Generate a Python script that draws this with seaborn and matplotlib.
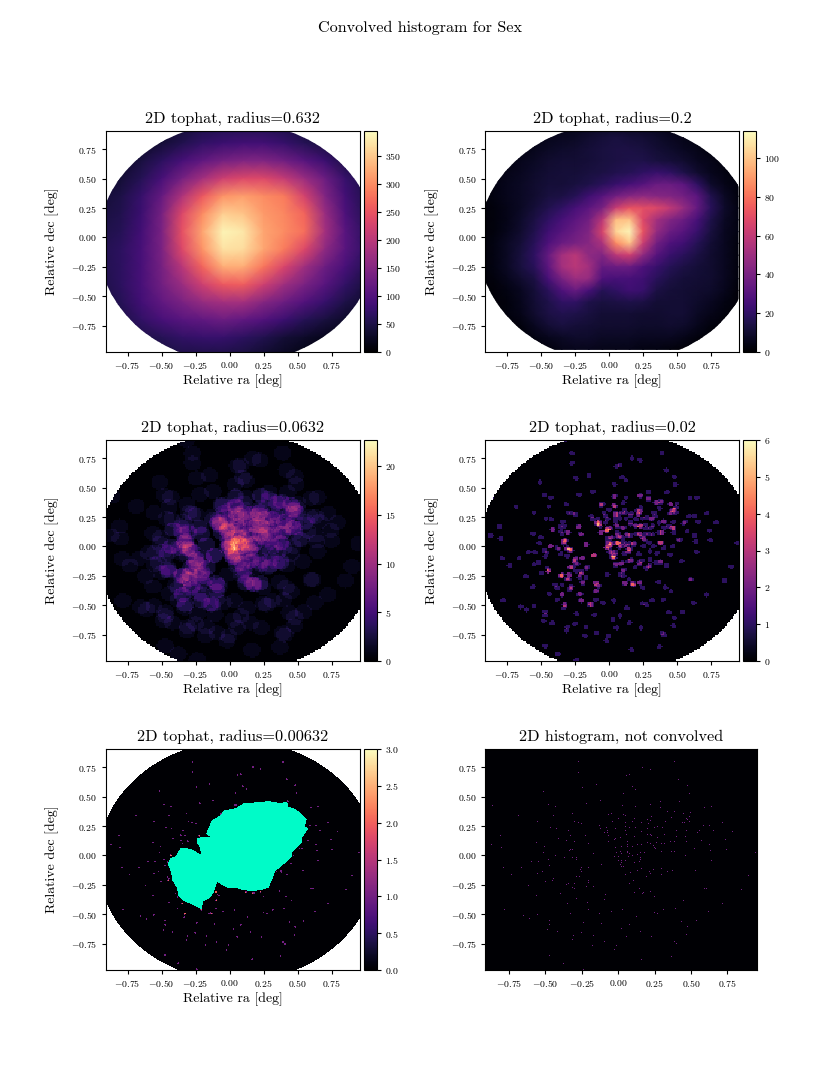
import numpy as np
import pandas as pd
import matplotlib
matplotlib.use('Agg')
import matplotlib.pyplot as plt
from matplotlib.patches import Ellipse
from matplotlib.path import Path
import seaborn as sns

# source positions [deg]
star_ra = [-.322,-.274,-.274,-.244,-.514,-.148,.055,.082,.171,.226,.390,.418,.479,.489,.096,.123,.041,-.123,-.219,-.479,
    -.863,-.431,.034,.123,.226,.288,.288,.425,.596,.644,-.685,-.445,-.315,-.048,-.062,.041,.048,.342,.384,.452,
    .500,.493,.370,.473,.479,.493,.445,.459,-.555,-.301,-.274,-.247,0,-.041,.116,.096,.205,.226,.233,.212,
    .164,.048,.329,.719,.589,.630,-.466,-.425,-.342,-.130,-.123,-.082,-.075,-.075,-.096,-.014,.048,.082,.123,.048,
    .158,.199,.247,.274,.308,.404,.473,.562,.658,.548,.788,-.808,-.411,-.356,-.329,-.226,-.068,-.062,-.021,-.014,
    .014,.055,.062,.110,.199,.226,.233,.274,.322,.404,.466,.473,.575,.740,-.870,-.801,-.562,-.507,-.301,-.205,
    -.329,-.315,-.336,-.014,.021,.062,.068,.096,.137,.158,.199,.226,.240,.267,.295,.322,.363,.390,.527,.630,
    .637,.747,-.514,-.171,-.007,-.021,0,.014,.021,.062,.062,.082,.096,.137,.151,.185,.253,.260,.295,.370,
    .384,.466,.945,-.431,-.370,-.288,-.288,-.315,-.479,-.596,-.548,0,.021,.048,.021,.075,.110,.151,.151,.144,
    .644,-.116,-.473,.014,.027,.041,-.788,-.664,-.247,-.199,-.260,-.253,.164,.219,.240,.301,.342,.377,.534,-.733,
    -.555,-.521,-.267,-.288,.048,.089,.137,.192,.226,.301,.897,-.445,-.452,-.500,-.205,-.205,.103,.082,-.342,-.295,
    -.616,-.356,-.315,-.295,-.219,-.171,.144,.596,.610,.849,-.397,-.562,.116,.171,.178,.226,-.089,.247,-.096,-.212,
    -.349,.452,.719,-.288,-.781,-.329,-.205,-.130,-.048,.034,.315,.397,.247,.274,.623,-.555,-.651,-.610,.130,-.473,
    .438,.541,-.240,-.110,-.473,.082,.479,-.486,-.418,.027,-.253,.151,-.308,-.171,.055,.233,-.315,.473,-.096,.390,
    .404,-.178,-.007,-.021,-.473,.370,.164,-.377,-.240]
star_dec = [.905,.794,.708,.580,.546,.606,.683,.691,.751,.734,.794,.649,.597,.529,.589,.563,.529,.469,.444,.435,
    .427,.418,.427,.418,.435,.461,.410,.461,.410,.418,.341,.341,.358,.358,.350,.350,.341,.376,.376,.358,
    .367,.333,.324,.316,.307,.290,.282,.282,.290,.290,.282,.273,.316,.290,.316,.290,.307,.299,.333,.273,
    .282,.282,.290,.282,.256,.256,.239,.230,.213,.256,.230,.239,.213,.196,.196,.230,.248,.239,.239,.213,
    .205,.230,.239,.248,.239,.213,.213,.213,.213,.196,.205,.171,.145,.128,.171,.171,.171,.119,.137,.145,
    .154,.179,.119,.162,.179,.179,.171,.154,.179,.162,.162,.119,.128,.137,.094,.068,.111,.077,.119,.102,
    .051,.051,.043,.068,.077,.094,.077,.077,.094,.094,.111,.102,.085,.111,.102,.102,.119,.119,.060,.094,
    .043,.051,.026,.017,.026,-.009,-.009,.034,.017,.034,.026,.017,0,.009,.026,.026,.068,.060,.034,.034,
    .034,0,.026,0,-.017,-.017,-.034,-.017,-.034,-.051,-.051,-.043,-.043,-.043,-.060,-.009,-.060,-.017,-.034,-.051,
    -.043,-.077,-.085,-.077,-.094,-.094,-.102,-.102,-.102,-.102,-.119,-.137,-.111,-.137,-.119,-.111,-.137,-.128,-.128,-.162,
    -.154,-.137,-.179,-.179,-.162,-.145,-.128,-.179,-.154,-.162,-.171,-.196,-.213,-.222,-.213,-.230,-.213,-.239,-.239,-.239,
    -.256,-.248,-.273,-.282,-.265,-.265,-.282,-.282,-.282,-.290,-.324,-.341,-.316,-.324,-.316,-.307,-.333,-.350,-.376,-.401,
    -.410,-.384,-.410,-.367,-.461,-.495,-.461,-.495,-.478,-.461,-.461,-.452,-.486,-.495,-.478,-.504,-.512,-.538,-.521,-.555,
    -.563,-.555,-.572,-.580,-.589,-.589,-.606,-.632,-.649,-.623,-.657,-.649,-.683,-.683,-.691,-.691,-.717,-.674,-.734,-.734,
    -.751,-.760,-.760,-.802,-.845,-.854,-.879,-.913,-.964]

# more sources, only visible once the tophat has spread them out
extra_ra = [-.015,-.003,.010,-.020,.046,.071,.034,.022,.046,.054,-.015,-.003,-.020,.058,-.088,-.076,.225,.230,.217,.315,
    .308,.144,.156,.168,.181,.254,.389,.474,.462,.450,.462,.376,.352,.107,.120,.156,.071,.132,.107,.083,
    .181,.120,.217,.291,.274,.095,.107,.107,.120,-.015,-.100,-.076,.230,.193,.266,.034,-.064,.046,.230,.291,
    .340,.364,.437,.401,.511,.376,.401,.327,.303,.352,.450,.376,.420,.364,.413,.225,-.113,-.027,-.027,.046,
    .156,.095,.010,-.064,-.326,-.333,-.308,-.291,-.277,-.284,-.247,-.235,-.169,-.162,-.198,-.193,-.277,-.284,-.326,-.333,
    -.149,-.137,-.101,-.101,-.345,-.357,-.345,-.296,-.301,-.242,-.211,-.382,-.418,-.357,-.345,-.308,-.223,-.211,-.169,-.113,
    -.455,-.448,-.431,-.382,-.357,-.308,-.198,-.345,-.382,-.443,-.223,-.211,-.101,-.455]
extra_dec = [.031,.003,.017,-.011,.031,.031,-.082,-.097,-.068,-.145,.145,.159,.131,.173,.202,.188,.108,.301,.273,.239,
    .159,-.026,-.125,-.318,-.324,.003,.117,.159,.159,.358,.315,.386,.372,.372,.287,.259,.273,.102,.045,.088,
    .017,.017,-.063,-.168,-.182,-.139,-.196,-.253,-.310,-.239,-.310,-.338,.173,.173,.188,.344,.358,.429,.429,.401,
    .259,.202,.173,.216,.060,.031,-.011,.003,-.040,-.054,-.068,-.139,-.162,-.301,-.347,-.310,-.077,.202,.259,.273,
    .188,.159,.074,.117,.045,.023,-.011,-.026,-.034,-.176,-.111,-.148,-.182,-.176,-.301,-.318,-.338,-.352,-.494,-.523,
    -.494,-.489,-.310,-.381,-.324,-.253,-.244,-.239,-.281,-.210,-.239,-.352,.145,.173,.102,.125,.165,.108,.017,-.074,
    -.182,-.210,.003,-.011,-.063,-.082,-.097,-.409,-.452,-.401,-.409,-.460,-.452,-.054]

# outline of the saturated region in the r=0.00632 panel
blob_ra = [-.240,-.142,-.174,-.130,-.069,-.044,.042,.103,.213,.286,.360,.421,.428,.482,.563,.551,.575,.531,.526,.458,
    .458,.396,.335,.311,.286,.230,.164,.091,.042,-.020,-.093,-.117,-.142,-.191,-.208,-.264,-.338,-.374,-.387,-.418,
    -.428,-.453,-.436,-.399,-.355,-.277,-.208,-.223,-.242]
blob_dec = [.151,.159,.182,.302,.339,.381,.401,.444,.453,.461,.447,.453,.413,.396,.310,.248,.231,.154,.105,.026,
    -.009,-.074,-.131,-.202,-.273,-.293,-.302,-.293,-.273,-.273,-.225,-.316,-.359,-.387,-.458,-.421,-.387,-.344,-.273,-.216,
    -.145,-.074,-.023,-.009,.068,.054,.006,.083,.111]

# large radius panels, read on a coarse raster
wide_ra = [-.95,-.8,-.65,-.5,-.35,-.2,-.05,.1,.25,.4,.55,.7,.85,1.0]
wide_dec = [.95,.8,.65,.5,.35,.2,.05,-.1,-.25,-.4,-.55,-.7,-.85,-1.0]
wide_counts = [
    [30,30,30,30,40,50,55,55,55,50,40,30,20,20],
    [30,30,30,40,55,70,80,85,85,75,60,45,30,25],
    [30,30,45,65,90,115,135,145,145,130,105,80,50,35],
    [35,40,60,90,135,180,220,235,235,210,170,125,75,50],
    [40,50,75,120,190,255,305,315,300,285,225,145,85,55],
    [45,55,80,135,235,300,355,345,310,295,265,170,95,60],
    [50,60,85,140,245,320,385,375,320,300,275,180,105,65],
    [55,65,90,140,235,305,370,365,320,285,235,160,105,70],
    [55,65,90,135,200,265,325,325,280,230,175,125,90,60],
    [50,65,90,130,170,220,255,260,220,175,140,105,70,45],
    [45,60,85,115,140,165,180,180,150,125,100,75,50,35],
    [40,50,70,90,105,115,125,115,100,80,60,45,30,20],
    [40,40,50,60,70,75,75,65,55,40,30,20,15,15],
    [35,35,40,45,50,50,50,45,35,25,15,10,10,10]]

mid_ra = [-.95,-.85,-.75,-.65,-.55,-.45,-.35,-.25,-.15,-.05,.05,.15,.25,.35,.45,.55,.65,.75,.85,.95]
mid_dec = [.95,.85,.75,.65,.55,.45,.35,.25,.15,.05,-.05,-.15,-.25,-.35,-.45,-.55,-.65,-.75,-.85,-.95]
mid_counts = [
    [2,2,2,2,3,4,5,6,7,8,8,7,7,6,5,4,3,2,2,2],
    [2,2,3,3,4,6,7,8,10,12,13,12,11,9,7,5,4,3,2,2],
    [2,3,3,4,6,8,9,10,12,13,14,14,13,11,9,7,5,3,2,2],
    [2,3,4,6,8,10,11,11,12,13,14,15,15,13,12,10,7,5,3,2],
    [2,3,5,7,9,11,12,12,13,14,16,17,20,22,20,15,10,6,4,2],
    [2,4,6,8,10,12,12,13,15,18,22,26,30,36,36,32,20,9,5,3],
    [2,4,6,8,10,13,14,17,24,30,38,44,46,44,42,38,32,16,8,3],
    [2,3,5,8,12,16,20,26,32,40,62,72,70,68,60,48,34,18,9,4],
    [2,3,5,9,14,20,26,32,38,58,98,100,68,52,42,36,26,15,8,4],
    [2,3,6,10,16,24,30,36,42,66,104,112,72,48,36,30,22,13,7,4],
    [2,4,8,12,18,28,36,40,44,54,86,100,62,38,28,24,17,11,7,3],
    [2,4,8,13,20,34,52,58,46,42,58,64,46,30,22,18,14,10,7,3],
    [2,4,8,13,18,32,52,58,52,34,36,36,28,22,17,14,12,10,7,3],
    [2,3,6,10,14,26,40,50,48,28,26,26,24,18,14,12,11,10,7,3],
    [1,2,4,7,12,18,28,35,26,17,20,24,22,14,12,11,10,9,6,2],
    [1,2,3,6,11,15,20,20,15,13,14,15,14,11,11,11,9,7,4,2],
    [1,2,3,5,10,14,16,15,13,11,11,11,10,10,11,11,8,5,3,1],
    [1,1,2,3,7,11,13,12,11,10,10,10,9,9,10,9,6,3,2,1],
    [1,1,1,2,4,6,8,9,9,8,8,8,7,7,7,5,3,2,1,1],
    [1,1,1,1,2,3,5,6,6,5,5,5,4,4,3,2,1,1,1,1]]

tick_values = [-0.75, -0.5, -0.25, 0, 0.25, 0.5, 0.75]
tick_labels = ['$-0.75$', '$-0.50$', '$-0.25$', '$0.00$', '$0.25$', '$0.50$', '$0.75$']

RA_LIM = (-.912, .953)
DEC_LIM = (-.972, .904)
CENTER = (.055, -.046)
RADIUS = 1.02
W, H = 840, 1090


## helpers
def make_axes(left, top, right, bottom):
    return plt.gcf().add_axes([left / W, 1 - bottom / H, (right - left) / W, (bottom - top) / H])


def bin_index(ra, dec, nx, ny):
    col = (np.asarray(ra) - RA_LIM[0]) / (RA_LIM[1] - RA_LIM[0]) * nx
    row = (DEC_LIM[1] - np.asarray(dec)) / (DEC_LIM[1] - DEC_LIM[0]) * ny
    return col, row


def bin_centres(nx, ny):
    ra_edges = np.linspace(RA_LIM[0], RA_LIM[1], nx + 1)
    dec_edges = np.linspace(DEC_LIM[1], DEC_LIM[0], ny + 1)
    return np.meshgrid((ra_edges[:-1] + ra_edges[1:]) / 2, (dec_edges[:-1] + dec_edges[1:]) / 2)


def tophat_counts(ras, decs, radius, nx, ny):
    # count the stars within radius of every bin centre
    xx, yy = bin_centres(nx, ny)
    grid = np.zeros((ny, nx))
    for ra, dec in zip(ras, decs):
        hit = (xx - ra) ** 2 + (yy - dec) ** 2 <= radius ** 2
        col, row = bin_index(ra, dec, nx, ny)
        if 0 <= int(col) < nx and 0 <= int(row) < ny:
            hit[int(row), int(col)] = True
        grid += hit
    return grid, (xx - CENTER[0]) ** 2 + (yy - CENTER[1]) ** 2 > RADIUS ** 2


def finish_axes(ax, title, to_col, to_row, labels=True):
    for spine in ax.spines.values():
        spine.set_visible(True)
        spine.set_linewidth(0.8)
    ax.set_xticks(to_col(tick_values))
    ax.set_yticks(to_row(tick_values))
    ax.set_xticklabels(tick_labels, rotation=0)
    ax.set_yticklabels(tick_labels, rotation=0)
    ax.tick_params(labelsize=7, length=3, width=0.8, pad=3)
    ax.set_title(title, fontsize=11.7, pad=5.5)
    if labels:
        ax.set_xlabel('Relative ra [deg]', fontsize=10, labelpad=2)
        ax.set_ylabel('Relative dec [deg]', fontsize=10)
        ax.yaxis.set_label_coords(-0.183, 0.5)


def style_colorbar(ax):
    cb = ax.collections[0].colorbar
    cb.outline.set_linewidth(0.8)
    cb.ax.tick_params(labelsize=7, length=3, width=0.8, pad=3)


def smooth_panel(box, cbar_box, title, ra_nodes, dec_nodes, counts, vmax, ticks):
    ax = make_axes(*box)
    cax = make_axes(*cbar_box)
    df = pd.DataFrame(counts, index=dec_nodes, columns=ra_nodes)
    sns.heatmap(df, ax=ax, cbar_ax=cax, cmap='magma', vmin=0, vmax=vmax, shading='gouraud',
                xticklabels=False, yticklabels=False, cbar_kws={'ticks': ticks})
    dx = ra_nodes[1] - ra_nodes[0]
    dy = dec_nodes[0] - dec_nodes[1]
    to_col = lambda v: (np.asarray(v) - ra_nodes[0]) / dx
    to_row = lambda v: (dec_nodes[0] - np.asarray(v)) / dy
    ax.set_xlim(to_col(RA_LIM[0]), to_col(RA_LIM[1]))
    ax.set_ylim(to_row(DEC_LIM[0]), to_row(DEC_LIM[1]))
    # the field of view is a disc
    disc = Ellipse((to_col(CENTER[0]), to_row(CENTER[1])), 2 * RADIUS / dx, 2 * RADIUS / dy,
                   transform=ax.transData)
    ax.collections[0].set_clip_path(disc)
    finish_axes(ax, title, to_col, to_row)
    style_colorbar(ax)


def binned_panel(box, cbar_box, title, radius, vmax, ticks, blob=False, nx=170, ny=147):
    ax = make_axes(*box)
    cax = make_axes(*cbar_box)
    grid, outside = tophat_counts(star_ra + extra_ra, star_dec + extra_dec, radius, nx, ny)
    cmap = 'magma'
    if blob:
        cmap = plt.get_cmap('magma').with_extremes(over='#00fbc8')
        xx, yy = bin_centres(nx, ny)
        inside = Path(np.column_stack([blob_ra, blob_dec])).contains_points(np.column_stack([xx.ravel(), yy.ravel()]))
        grid[inside.reshape(grid.shape)] = vmax + 1
    sns.heatmap(grid, ax=ax, cbar_ax=cax, cmap=cmap, vmin=0, vmax=vmax, mask=outside,
                xticklabels=False, yticklabels=False, cbar_kws={'ticks': ticks})
    finish_axes(ax, title, lambda v: bin_index(v, 0, nx, ny)[0], lambda v: bin_index(0, v, nx, ny)[1])
    style_colorbar(ax)


sns.set_theme(style='ticks')
plt.rcParams['font.family'] = ['cmr10', 'DejaVu Serif']
plt.rcParams['mathtext.fontset'] = 'cm'
plt.rcParams['axes.formatter.use_mathtext'] = True
plt.rcParams['axes.unicode_minus'] = True
plt.rcParams['text.color'] = 'black'
plt.rcParams['axes.labelcolor'] = 'black'
plt.rcParams['xtick.color'] = 'black'
plt.rcParams['ytick.color'] = 'black'
plt.rcParams['axes.edgecolor'] = 'black'

fig = plt.figure(figsize=(8.4, 10.9), dpi=100)
fig.suptitle('Convolved histogram for Sex', fontsize=11.6, x=0.5, y=0.981)

smooth_panel((105.5, 131, 359.5, 352), (364, 131, 376.5, 352), '2D tophat, radius=0.632',
             wide_ra, wide_dec, wide_counts, 394, [0, 50, 100, 150, 200, 250, 300, 350])
smooth_panel((485.5, 131, 738.5, 352), (743, 131, 756, 352), '2D tophat, radius=0.2',
             mid_ra, mid_dec, mid_counts, 114, [0, 20, 40, 60, 80, 100])
binned_panel((105.5, 440, 359.5, 661), (364, 440, 376.5, 661), '2D tophat, radius=0.0632',
             0.0632, 22.7, [0, 5, 10, 15, 20])
binned_panel((485.5, 440, 738.5, 661), (743, 440, 756, 661), '2D tophat, radius=0.02',
             0.02, 6, [0, 1, 2, 3, 4, 5, 6])
binned_panel((105.5, 749, 359.5, 970), (364, 749, 376.5, 970), '2D tophat, radius=0.00632',
             0.00632, 3, [0, 0.5, 1, 1.5, 2, 2.5, 3], blob=True, nx=255, ny=221)

# raw histogram, single pixels and no colour bar
ax = make_axes(485.5, 749, 757, 970)
hist, _ = tophat_counts(star_ra, star_dec, 0.0, 272, 221)
sns.heatmap(hist, ax=ax, cbar=False, cmap='magma', vmin=0, vmax=3, xticklabels=False, yticklabels=False)
finish_axes(ax, '2D histogram, not convolved', lambda v: bin_index(v, 0, 272, 221)[0],
            lambda v: bin_index(0, v, 272, 221)[1], labels=False)

fig.savefig('out.png', dpi=100)
